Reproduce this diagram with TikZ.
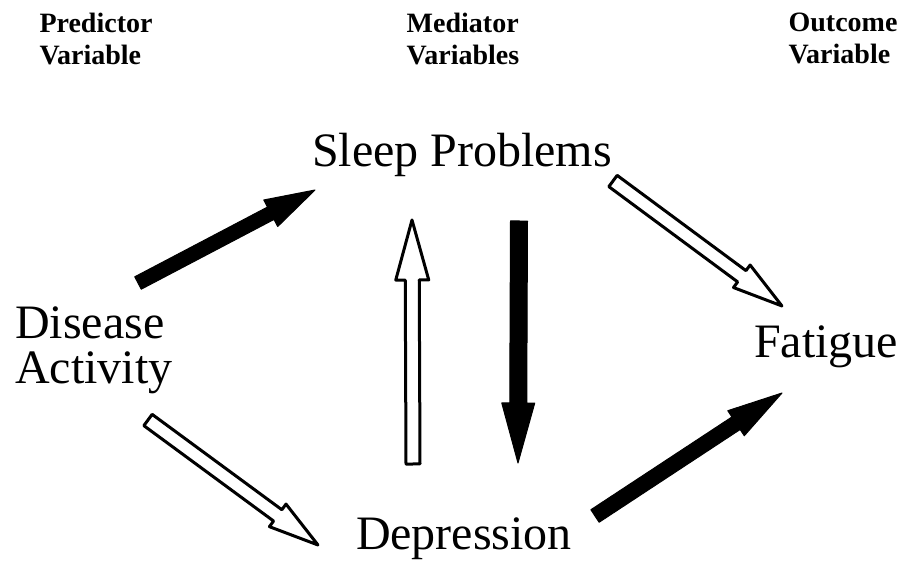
\documentclass[tikz,border=0pt]{standalone}
\usepackage{fontspec}
\setmainfont{Liberation Serif}
\usetikzlibrary{calc}

% block arrow: [style]{tail}{tip}{half shaft}{head length}{half head}
\newcommand{\fatarrow}[6][]{%
  \coordinate (fa-h) at ($(#3)!#5!(#2)$);
  \draw[#1] ($(#2)!#4!90:(#3)$) -- ($(fa-h)!#4!90:(#3)$) -- ($(fa-h)!#6!90:(#3)$) -- (#3)
    -- ($(fa-h)!#6!-90:(#3)$) -- ($(fa-h)!#4!-90:(#3)$) -- ($(#2)!#4!-90:(#3)$) -- cycle;
}

\tikzset{
  hdr/.style={inner sep=0pt, align=left, anchor=north, font=\fontsize{28}{32}\selectfont\bfseries},
  var/.style={inner sep=0pt, font=\fontsize{48}{45}\selectfont},
  solidarrow/.style={fill=black, draw=black, line width=1pt, line join=round},
  openarrow/.style={fill=white, draw=black, line width=3pt, line join=round}
}

\begin{document}
\begin{tikzpicture}[x=1pt, y=-1pt]
        \useasboundingbox (0,0) rectangle (906,561);

        % Column headings
        \node[hdr] (pred) at (96,13) {Predictor\\Variable};
        \node[hdr] (med) at (463,13) {Mediator\\Variables};
        \node[hdr] (outc) at (843,13) {Outcome\\Variable};

        % Variables
        \node[var, anchor=base] (sleep) at (462,167) {Sleep Problems};
        \node[var, anchor=north west, align=left] (dis) at (15,307) {Disease\\Activity};
        \node[var, anchor=base] (fat) at (826,358) {Fatigue};
        \node[var, anchor=base] (dep) at (464,550) {Depression};

        % Arrow ends
        \coordinate (dis-s1) at (138,283);
        \coordinate (sleep-e1) at (315,190);
        \coordinate (dis-s2) at (148,420);
        \coordinate (dep-e2) at (318,545);
        \coordinate (dep-s3) at (413,464);
        \coordinate (sleep-e3) at (412,220);
        \coordinate (sleep-s4) at (519,221);
        \coordinate (dep-e4) at (518,463);
        \coordinate (sleep-s5) at (613,181);
        \coordinate (fat-e5) at (782,306);
        \coordinate (dep-s6) at (595,516);
        \coordinate (fat-e6) at (782,393);

        % Paths
        \fatarrow[solidarrow]{dis-s1}{sleep-e1}{7pt}{50pt}{15pt}
        \fatarrow[openarrow]{dis-s2}{dep-e2}{7pt}{50pt}{14pt}
        \fatarrow[openarrow]{dep-s3}{sleep-e3}{7pt}{60pt}{16.5pt}
        \fatarrow[solidarrow]{sleep-s4}{dep-e4}{8.5pt}{60pt}{16.5pt}
        \fatarrow[openarrow]{sleep-s5}{fat-e5}{7pt}{50pt}{14pt}
        \fatarrow[solidarrow]{dep-s6}{fat-e6}{7.5pt}{55pt}{15pt}
    \end{tikzpicture}
\end{document}
